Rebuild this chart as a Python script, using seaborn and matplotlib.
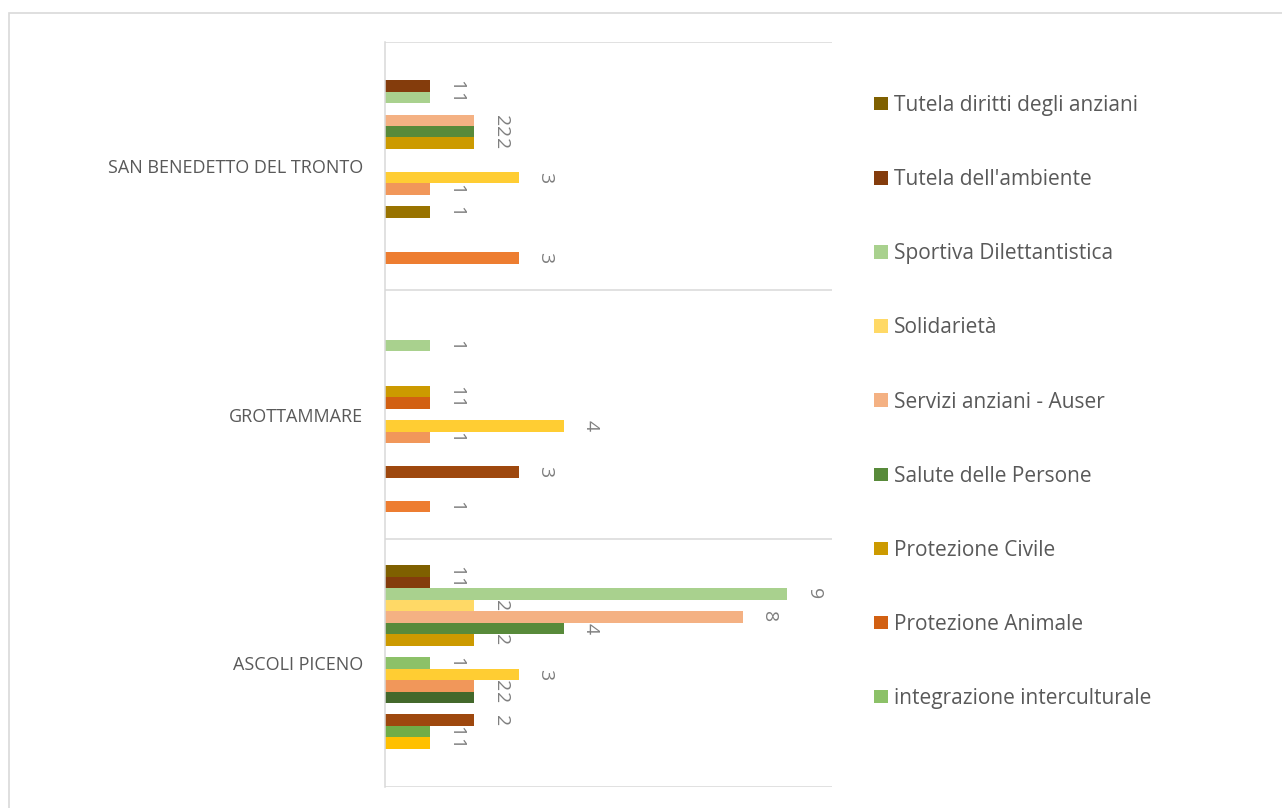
import numpy as np
import pandas as pd
import matplotlib
matplotlib.use("Agg")
import matplotlib.pyplot as plt
from matplotlib.patches import Patch, Rectangle
import seaborn as sns

# ==========================================
# Data
# ==========================================
cities = ["SAN BENEDETTO DEL TRONTO", "GROTTAMMARE", "ASCOLI PICENO"]

# series in Excel order (series 1 = bottom bar of each group);
# only the last nine names are visible in the truncated legend
series = [
    "Assistenza sociale",
    "Attività culturali",
    "Cooperazione internazionale",
    "Cultura e tempo libero",
    "Disabilità",
    "Donatori di sangue",
    "Educazione e formazione",
    "Giovani",
    "integrazione interculturale",
    "Protezione Animale",
    "Protezione Civile",
    "Salute delle Persone",
    "Servizi anziani - Auser",
    "Solidarietà",
    "Sportiva Dilettantistica",
    "Tutela dell'ambiente",
    "Tutela diritti degli anziani",
]

san_benedetto = [3, 0, 0, 0, 1, 0, 1, 3, 0, 0, 2, 2, 2, 0, 1, 1, 0]
grottammare = [1, 0, 0, 3, 0, 0, 1, 4, 0, 1, 1, 0, 0, 0, 1, 0, 0]
ascoli_piceno = [0, 1, 1, 2, 0, 2, 2, 3, 1, 0, 2, 4, 8, 2, 9, 1, 1]

colors = [
    "#ED7D31", "#FFC000", "#70AD47", "#9E480E", "#997300", "#43682B",
    "#F1975A", "#FFCD33", "#8CC168", "#D26012", "#CC9A00", "#588A3A",
    "#F4B183", "#FFD966", "#A9D18E", "#843C0C", "#7F6000",
]

n_legend = 9  # the legend box only has room for the top nine entries

# ==========================================
# Formatting
# ==========================================
sns.set_style("white")
plt.rcParams["font.family"] = ["Open Sans", "DejaVu Sans"]

GRID = "#D9D9D9"
TEXT = "#595959"
LABEL = "#7F7F7F"

df = pd.DataFrame({
    "city": np.repeat(cities, len(series)),
    "series": series * len(cities),
    "value": san_benedetto + grottammare + ascoli_piceno,
})

# Excel draws series 1 at the bottom of each group -> reverse hue order
hue_order = series[::-1]
palette = dict(zip(series, colors))

fig = plt.figure(figsize=(12.82, 8.08), dpi=100)
ax = fig.add_axes([385 / 1282, 1 - 787 / 808, (832 - 385) / 1282, (787 - 42) / 808])

sns.barplot(data=df, y="city", x="value", hue="series", order=cities,
            hue_order=hue_order, palette=palette, orient="h", width=0.785,
            saturation=1, linewidth=0, legend=False, ax=ax)

# data labels, rotated like Excel's vertical labels
for cont in ax.containers:
    labels = [f"{v:g}" if v > 0 else "" for v in cont.datavalues]
    ax.bar_label(cont, labels=labels, padding=12.5, rotation=270,
                 fontsize=14, color=LABEL)

ax.set_xlim(0, 10)
ax.set_ylim(2.5, -0.5)
ax.set_xticks([])
ax.set_xlabel("")
ax.set_ylabel("")

# category separators
ax.set_yticks(np.arange(-0.5, len(cities), 1.0), minor=True)
ax.grid(True, which="minor", axis="y", color=GRID, linewidth=1.1)
ax.tick_params(axis="y", which="both", length=0)
ax.tick_params(axis="y", which="major", pad=16, labelsize=13, labelcolor=TEXT)

for side in ["top", "right", "bottom"]:
    ax.spines[side].set_visible(False)
ax.spines["left"].set_color(GRID)
ax.spines["left"].set_linewidth(1.1)

# truncated legend (top nine entries only)
handles = [Patch(facecolor=palette[s], edgecolor="none") for s in hue_order[:n_legend]]
fig.legend(handles, hue_order[:n_legend], loc="upper left",
           bbox_to_anchor=(874 / 1282, 1 - 95 / 808), frameon=False,
           fontsize=15, labelcolor=TEXT, handlelength=0.67, handleheight=0.62,
           handletextpad=0.3, labelspacing=2.55, borderpad=0, borderaxespad=0)

# chart area border (cropped on the right and bottom)
fig.patches.append(Rectangle((9 / 1282, -0.1), 1.1, 1.1 - 13 / 808,
                             transform=fig.transFigure, fill=False,
                             edgecolor=GRID, linewidth=1.2, clip_on=False))

fig.savefig("out.png", dpi=100, facecolor="white")
